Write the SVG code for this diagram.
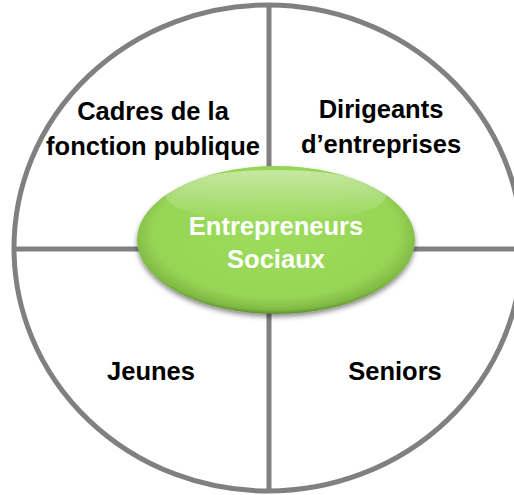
<svg xmlns="http://www.w3.org/2000/svg" width="514" height="495" viewBox="0 0 514 495">
<defs>
<style>
.frame{fill:#ffffff;stroke:#808080;stroke-width:5}
.div{stroke:#808080;stroke-width:5;fill:none}
.lbl{font-family:"Liberation Sans",Arial,sans-serif;font-weight:bold;font-size:25.5px;fill:#000000;text-anchor:middle}
.ctr{font-family:"Liberation Sans",Arial,sans-serif;font-weight:bold;font-size:25.5px;fill:#ffffff;text-anchor:middle}
</style>
<radialGradient id="g" cx="0.5" cy="0.45" r="0.55">
<stop offset="0" stop-color="#9ddc5c"/>
<stop offset="0.8" stop-color="#97d556"/>
<stop offset="0.95" stop-color="#7fb944"/>
<stop offset="1" stop-color="#5f8f2c"/>
</radialGradient>
<linearGradient id="hl" x1="0" y1="0" x2="0" y2="1">
<stop offset="0" stop-color="#ffffff" stop-opacity="0.45"/>
<stop offset="1" stop-color="#ffffff" stop-opacity="0"/>
</linearGradient>
<filter id="sh" x="-20%" y="-20%" width="140%" height="150%">
<feDropShadow dx="0" dy="3" stdDeviation="2.5" flood-color="#000" flood-opacity="0.45"/>
</filter>
</defs>
<g id="frame">
<ellipse class="frame" cx="268" cy="248" rx="254" ry="243"/>
</g>
<g id="connectors">
<line class="div" x1="14" y1="249" x2="514" y2="249"/>
<line class="div" x1="269" y1="5" x2="269" y2="491"/>
</g>
<g id="center">
<ellipse cx="276" cy="240" rx="139" ry="74" fill="url(#g)" filter="url(#sh)"/>
<ellipse cx="276" cy="196" rx="110" ry="26" fill="url(#hl)"/>
<text class="ctr" x="276" y="235">Entrepreneurs</text>
<text class="ctr" x="276" y="268">Sociaux</text>
</g>
<g id="cadres">
<text class="lbl" x="153" y="120">Cadres de la</text>
<text class="lbl" x="153" y="155">fonction publique</text>
</g>
<g id="dirigeants">
<text class="lbl" x="381" y="118">Dirigeants</text>
<text class="lbl" x="381" y="153">d’entreprises</text>
</g>
<g id="jeunes">
<text class="lbl" x="151" y="380">Jeunes</text>
</g>
<g id="seniors">
<text class="lbl" x="395" y="380">Seniors</text>
</g>
</svg>
